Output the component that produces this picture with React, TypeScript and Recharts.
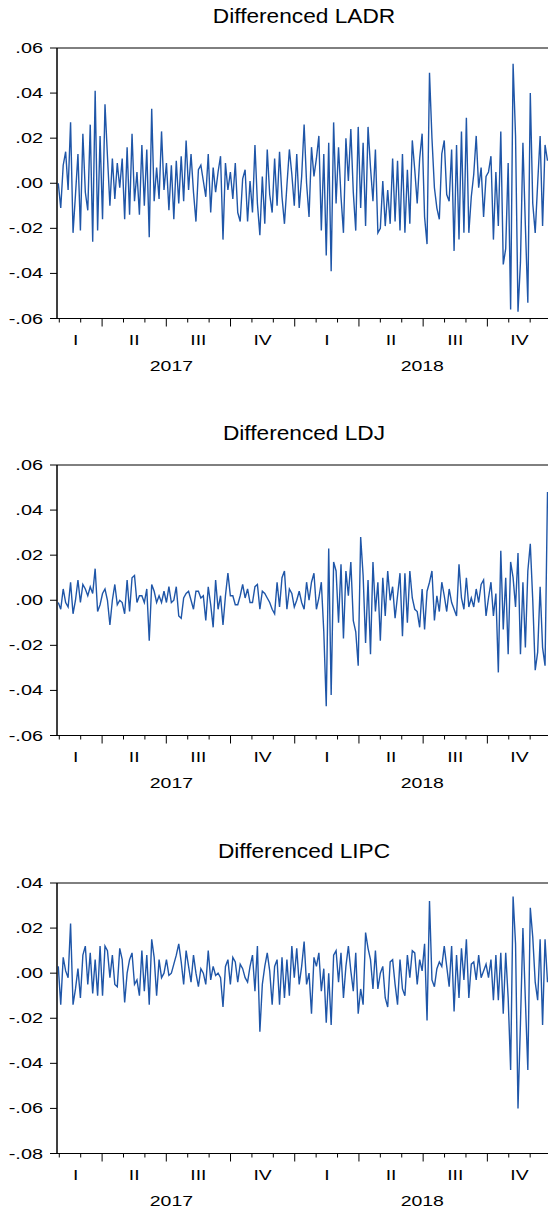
import React from 'react';
import { LineChart, Line, XAxis, YAxis, ReferenceArea } from 'recharts';

const ladrValues = [
  0.000, -0.011, 0.008, 0.014, -0.003, 0.027, -0.022, -0.005, 0.013, -0.021,
  0.022, -0.004, -0.012, 0.026, -0.026, 0.041, -0.021, 0.021, -0.016, 0.035,
  0.012, -0.010, 0.011, -0.007, 0.009, -0.002, 0.011, -0.016, 0.016, -0.014,
  0.022, -0.008, 0.005, -0.014, 0.017, -0.010, 0.015, -0.024, 0.033, -0.008,
  0.007, -0.007, 0.023, -0.003, 0.009, -0.012, 0.008, -0.016, 0.010, -0.009,
  0.012, -0.008, 0.019, -0.003, 0.013, -0.004, -0.017, 0.006, 0.008, 0.001,
  -0.006, 0.013, -0.013, 0.007, -0.004, 0.005, 0.012, -0.025, 0.009, -0.003,
  0.005, -0.007, 0.009, -0.013, -0.017, 0.002, 0.006, -0.017, 0.001, -0.013,
  0.017, -0.009, -0.023, 0.003, -0.018, 0.015, -0.005, -0.013, 0.011, -0.010,
  0.014, -0.006, -0.018, -0.001, 0.015, 0.004, -0.010, 0.013, -0.011, 0.003,
  0.026, 0.000, -0.015, 0.016, 0.003, 0.011, 0.021, -0.021, 0.013, -0.032,
  0.018, -0.039, 0.027, -0.009, 0.016, -0.006, -0.022, 0.020, 0.001, 0.024,
  -0.004, -0.021, 0.025, -0.011, 0.018, -0.019, 0.025, 0.007, -0.008, 0.015,
  -0.022, -0.020, 0.001, -0.019, -0.003, -0.018, 0.011, -0.017, 0.010, -0.021,
  0.013, -0.022, 0.006, -0.018, 0.019, 0.006, -0.009, 0.011, 0.022, -0.015,
  -0.027, 0.049, 0.020, -0.002, -0.011, -0.016, 0.013, 0.019, -0.005, -0.008,
  0.015, -0.030, 0.017, -0.025, 0.023, -0.022, 0.029, -0.022, -0.006, 0.004,
  0.021, -0.002, 0.007, -0.015, 0.003, 0.005, 0.012, -0.025, 0.005, -0.019,
  0.023, -0.036, -0.029, 0.009, -0.056, 0.053, 0.021, -0.057, -0.035, 0.018,
  -0.019, -0.053, 0.040, -0.009, -0.022, 0.000, 0.021, -0.019, 0.017, 0.010,
];

const ldjValues = [
  -0.001, -0.004, 0.005, -0.001, -0.003, 0.008, -0.006, 0.000, 0.009, -0.001,
  0.007, 0.005, 0.002, 0.006, 0.003, 0.014, -0.005, -0.002, 0.003, 0.005,
  0.000, -0.011, 0.000, 0.007, -0.002, 0.000, -0.001, -0.006, 0.009, -0.005,
  0.010, 0.011, -0.001, 0.002, 0.002, -0.001, 0.005, -0.018, 0.007, 0.004,
  -0.001, 0.002, -0.001, 0.004, -0.001, 0.006, -0.001, 0.000, 0.006, -0.007,
  -0.008, 0.001, 0.003, 0.004, 0.000, -0.004, 0.004, 0.004, 0.001, 0.002,
  -0.009, 0.006, -0.002, -0.012, 0.009, -0.004, 0.002, -0.011, 0.002, 0.012,
  0.002, 0.002, -0.002, -0.002, 0.002, 0.007, 0.001, 0.005, -0.001, -0.001,
  0.006, 0.007, -0.004, 0.004, 0.003, 0.001, -0.001, -0.004, -0.006, 0.008,
  -0.003, 0.010, 0.013, -0.004, 0.005, 0.003, -0.003, 0.000, 0.004, -0.001,
  -0.004, 0.008, 0.000, 0.008, 0.012, -0.004, 0.001, 0.008, -0.014, -0.047,
  0.023, -0.042, 0.017, 0.013, -0.010, 0.016, -0.017, 0.013, 0.002, 0.017,
  -0.009, -0.014, -0.029, 0.028, 0.011, -0.019, 0.009, -0.024, 0.017, -0.005,
  0.008, -0.018, 0.010, -0.007, 0.013, 0.000, 0.006, -0.008, 0.002, 0.012,
  -0.016, 0.012, -0.010, 0.013, 0.001, -0.004, -0.005, -0.012, 0.005, -0.013,
  0.004, 0.008, 0.013, -0.009, 0.002, -0.005, 0.008, 0.002, -0.005, 0.005,
  -0.001, -0.004, -0.007, 0.016, 0.001, -0.004, 0.010, -0.003, 0.001, -0.003,
  0.005, -0.001, 0.007, 0.009, -0.007, 0.001, 0.008, -0.007, 0.003, -0.032,
  0.022, -0.013, 0.010, -0.024, 0.017, 0.010, -0.003, 0.021, -0.024, 0.008,
  -0.021, 0.013, 0.025, 0.000, -0.031, -0.023, 0.006, -0.021, -0.029, 0.048,
];

const lipcValues = [
  0.003, -0.014, 0.007, 0.001, -0.002, 0.022, -0.014, -0.007, 0.002, -0.011,
  0.008, 0.012, -0.005, 0.009, -0.009, 0.006, -0.010, 0.012, -0.010, 0.012,
  0.010, -0.002, 0.008, -0.005, -0.006, 0.011, 0.006, -0.013, 0.000, 0.006,
  0.009, -0.005, -0.003, -0.010, 0.010, -0.008, 0.008, -0.014, 0.015, 0.007,
  -0.010, 0.006, -0.002, 0.000, 0.006, -0.001, 0.000, 0.004, 0.008, 0.013,
  0.005, -0.005, 0.010, 0.003, -0.004, 0.008, 0.000, -0.006, 0.002, 0.000,
  -0.005, 0.010, -0.003, 0.003, -0.001, 0.000, -0.002, -0.015, 0.003, 0.006,
  -0.005, 0.007, 0.005, -0.004, 0.004, 0.002, -0.002, -0.004, 0.003, 0.008,
  -0.008, 0.012, -0.026, -0.005, 0.003, 0.009, 0.001, -0.014, 0.003, 0.006,
  -0.014, 0.007, -0.011, 0.006, -0.010, 0.012, -0.002, 0.011, -0.005, 0.003,
  0.014, -0.005, 0.000, -0.018, 0.007, 0.003, 0.009, -0.008, 0.002, -0.022,
  0.000, -0.023, 0.008, 0.010, -0.004, 0.009, -0.011, 0.003, 0.012, 0.001,
  -0.008, 0.009, -0.018, -0.007, -0.014, 0.018, 0.011, 0.006, -0.007, 0.010,
  -0.007, 0.000, 0.003, -0.011, -0.015, 0.005, 0.006, -0.005, -0.014, 0.006,
  -0.007, -0.010, 0.008, -0.002, 0.010, 0.009, -0.005, 0.006, 0.001, 0.013,
  -0.021, 0.032, -0.003, -0.006, 0.002, 0.005, 0.003, 0.012, 0.003, -0.006,
  0.012, -0.017, 0.008, -0.011, 0.011, -0.003, 0.015, -0.011, 0.004, 0.005,
  -0.003, 0.008, -0.002, 0.001, 0.004, -0.002, 0.006, -0.012, 0.008, -0.012,
  0.009, -0.018, 0.009, -0.011, -0.043, 0.034, 0.013, -0.060, -0.022, 0.020,
  -0.012, -0.043, 0.029, 0.016, -0.004, -0.012, 0.015, -0.023, 0.015, -0.004,
];

const titles = ['Differenced LADR', 'Differenced LDJ', 'Differenced LIPC'];

// x unit: months since 1 Feb 2017
const firstObs = -0.047;
const lastObs = 22.81;
const xDomain = [-0.107, 23.02];
const monthTicks = [0, 1, 2, 3, 4, 5, 6, 7, 8, 9, 10, 11, 12, 13, 14, 15, 16, 17, 18, 19, 20, 21, 22];
const quarterStarts = [2, 5, 8, 11, 14, 17, 20];
const quarterLabelPos = [0.77, 3.5, 6.5, 9.5, 12.5, 15.5, 18.5, 21.5];
const quarterLabels = ['I', 'II', 'III', 'IV', 'I', 'II', 'III', 'IV'];
const yearLabelPos = [5.24, 16.96];
const yearLabels = ['2017', '2018'];

const yTicksA = [-0.06, -0.04, -0.02, 0, 0.02, 0.04, 0.06];
const yTicksC = [-0.08, -0.06, -0.04, -0.02, 0, 0.02, 0.04];

const FONT = "Arial, 'Liberation Sans', sans-serif";
const LINE_COLOR = '#1f56a8';

const fmt = (v: number) => v.toFixed(2).replace(/^(-?)0\./, '$1.');

function XTick(props: any) {
  const { x, y, payload } = props;
  const v = payload.value;
  const qi = quarterLabelPos.indexOf(v);
  if (qi >= 0) {
    return (
      <g transform={`translate(${x},${y + 26.5}) scale(1.38,1)`}>
        <text x={0} y={0} textAnchor="middle" fontSize={14} fontFamily={FONT} fill="#000">
          {quarterLabels[qi]}
        </text>
      </g>
    );
  }
  const yi = yearLabelPos.indexOf(v);
  if (yi >= 0) {
    return (
      <g transform={`translate(${x},${y + 52.5}) scale(1.3,1)`}>
        <text x={0} y={0} textAnchor="middle" fontSize={15} fontFamily={FONT} fill="#000">
          {yearLabels[yi]}
        </text>
      </g>
    );
  }
  const major = quarterStarts.indexOf(v) >= 0;
  return <line x1={x} x2={x} y1={y} y2={y + (major ? 8 : 4)} stroke="#000" strokeWidth={1} />;
}

function YTick(props: any) {
  const { x, y, payload } = props;
  return (
    <g transform={`translate(${x},${y}) scale(1.42,1)`}>
      <text x={0} y={0} dy={5} textAnchor="end" fontSize={14} fontFamily={FONT} fill="#000">
        {fmt(payload.value)}
      </text>
    </g>
  );
}

function Panel({ values, title, yDomain, yTicks }: { values: number[]; title: string; yDomain: number[]; yTicks: number[] }) {
  const rows = values.map((v, i) => ({
    t: firstObs + (i * (lastObs - firstObs)) / (values.length - 1),
    v,
  }));
  return (
    <div style={{ position: 'relative', width: 552, height: 418.5 }}>
      <LineChart width={552} height={418.5} data={rows} margin={{ top: 48, right: 0, bottom: 0, left: 0 }}>
        <XAxis
          dataKey="t"
          type="number"
          domain={xDomain}
          allowDataOverflow
          ticks={[...monthTicks, ...quarterLabelPos, ...yearLabelPos]}
          interval={0}
          tickSize={0}
          tickMargin={0}
          tickLine={false}
          tick={<XTick />}
          axisLine={{ stroke: '#000', strokeWidth: 1 }}
          height={100}
        />
        <YAxis
          type="number"
          domain={yDomain}
          allowDataOverflow
          ticks={yTicks}
          interval={0}
          width={57}
          tickSize={7}
          tickMargin={7}
          tickLine={{ stroke: '#000', strokeWidth: 1 }}
          axisLine={{ stroke: '#000', strokeWidth: 1 }}
          tick={<YTick />}
        />
        <ReferenceArea
          x1={xDomain[0]}
          x2={xDomain[1]}
          y1={yDomain[0]}
          y2={yDomain[1]}
          fill="none"
          stroke="#000"
          strokeWidth={1}
          ifOverflow="visible"
        />
        <Line
          type="linear"
          dataKey="v"
          stroke={LINE_COLOR}
          strokeWidth={1.4}
          dot={false}
          activeDot={false}
          isAnimationActive={false}
        />
      </LineChart>
      <svg width={552} height={40} style={{ position: 'absolute', left: 0, top: 0, pointerEvents: 'none' }}>
        <g transform="translate(304,23.3) scale(1.08,1)">
          <text x={0} y={0} textAnchor="middle" fontSize={21} fontFamily={FONT} fill="#000">
            {title}
          </text>
        </g>
      </svg>
    </div>
  );
}

const panelTops = [0, 417, 834.7];

export default function App() {
  const panels = [
    { values: ladrValues, yDomain: [-0.06, 0.06], yTicks: yTicksA },
    { values: ldjValues, yDomain: [-0.06, 0.06], yTicks: yTicksA },
    { values: lipcValues, yDomain: [-0.08, 0.04], yTicks: yTicksC },
  ];
  return (
    <div style={{ position: 'absolute', left: 0, top: 0, width: 548, height: 1210, overflow: 'hidden', background: '#fff' }}>
      {panels.map((p, k) => (
        <div key={k} style={{ position: 'absolute', left: 0, top: panelTops[k], width: 552 }}>
          <Panel values={p.values} title={titles[k]} yDomain={p.yDomain} yTicks={p.yTicks} />
        </div>
      ))}
    </div>
  );
}
